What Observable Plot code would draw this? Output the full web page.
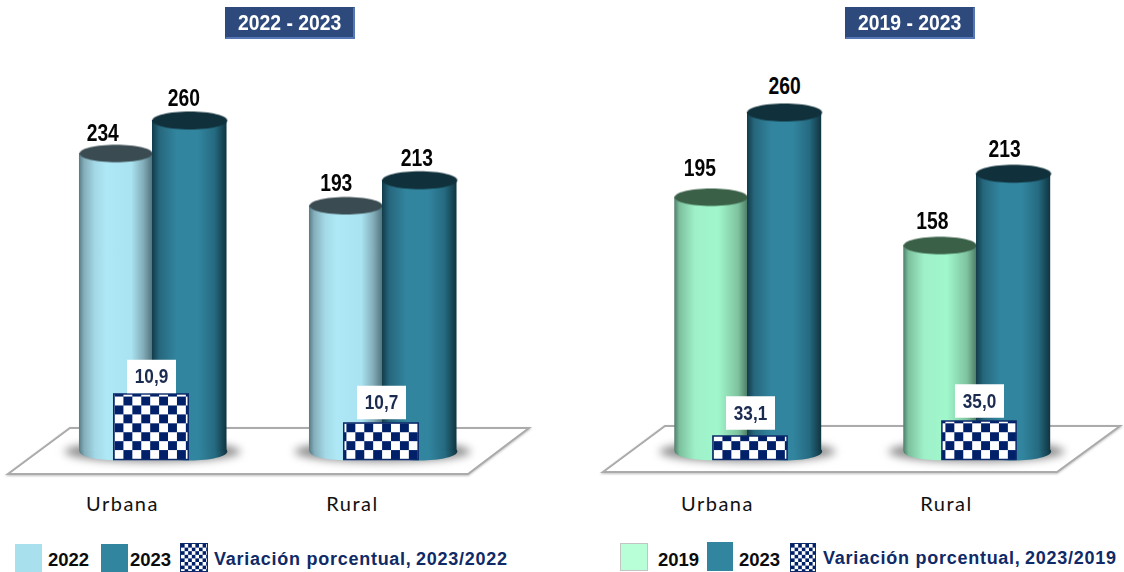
<!DOCTYPE html>
<html lang="es">
<head>
<meta charset="utf-8">
<script src="https://cdn.jsdelivr.net/npm/d3@7"></script>
<script src="https://cdn.jsdelivr.net/npm/@observablehq/plot@0.6"></script>
<style>
html,body{margin:0;padding:0;background:#fff;width:1124px;height:572px;overflow:hidden}
#root{position:relative;width:1124px;height:572px}
#root > svg{position:absolute;top:0;overflow:visible;background:transparent}
.shadow{filter:blur(4px)}
.floor{filter:drop-shadow(0 1px 1px rgba(0,0,0,.25))}
.cyl{filter:blur(.4px)}
.title{position:absolute;top:7px;width:130px;height:32px;box-sizing:border-box;background:#2e4a7d;border:1px solid #2e4a7d;border-right:2px solid #5577b5;border-bottom:2px solid #5577b5;color:#fff;font:bold 22px/30px "Liberation Sans",sans-serif;text-align:center}
.title span{display:inline-block;transform:scaleX(.88);white-space:nowrap}
.sw{position:absolute;box-sizing:border-box}
.lg{position:absolute;top:549px;font:bold 18.5px/22px "Liberation Sans",sans-serif;color:#0c0c0c;white-space:nowrap}
.lv{color:#0f2a66;letter-spacing:.74px;font-size:18px}
</style>
</head>
<body>
<svg width="0" height="0" style="position:absolute">
  <defs id="defs"></defs>
</svg>
<div id="root"></div>
<script>
// ---- data ----
const groups = ["Urbana", "Rural"];
const yearsA = ["2022", "2023"];
const urbanaA = [234, 260];
const ruralA = [193, 213];
const variationA = [10.9, 10.7];
const yearsB = ["2019", "2023"];
const urbanaB = [195, 260];
const ruralB = [158, 213];
const variationB = [33.1, 35.0];
const decimalLabel = d => d.toFixed(1).replace(".", ",");

// ---- paint servers ----
const defs = d3.select("#defs");
function gradient(id, stops) {
  const g = defs.append("linearGradient").attr("id", id).attr("x1", 0).attr("x2", 1).attr("y1", 0).attr("y2", 0);
  stops.forEach(([o, c]) => g.append("stop").attr("offset", o).attr("stop-color", c));
}
gradient("gLight", [[0,"#567a85"],[.07,"#84aeba"],[.22,"#a4d9e7"],[.38,"#aee8f6"],[.72,"#a9e2f0"],[.88,"#83adb9"],[1,"#527680"]]);
gradient("gDark", [[0,"#123c4a"],[.1,"#26677d"],[.33,"#32859f"],[.62,"#32859f"],[.84,"#256a80"],[1,"#0f3440"]]);
gradient("gGreen", [[0,"#4f7d68"],[.07,"#7cc09e"],[.28,"#9ef0c8"],[.6,"#a1f7cc"],[.88,"#7dc29e"],[1,"#4f7f68"]]);
function checker(id, cell, ox, oy) {
  const p = defs.append("pattern").attr("id", id).attr("patternUnits", "userSpaceOnUse")
    .attr("width", cell * 2).attr("height", cell * 2).attr("x", ox).attr("y", oy);
  p.append("rect").attr("width", cell * 2).attr("height", cell * 2).attr("fill", "#fff");
  p.append("rect").attr("width", cell).attr("height", cell).attr("fill", "#00206a");
  p.append("rect").attr("x", cell).attr("y", cell).attr("width", cell).attr("height", cell).attr("fill", "#00206a");
}
checker("chkA", 8.92, 114.5, 459);
checker("chkB", 8.92, 151.5, 459);
checker("chkLg", 3.6, 0, 0);

// ---- custom symbols for Plot.dot ----
const ellipse = ratio => ({draw(c, size) {
  const r = Math.sqrt(size / Math.PI), b = r * ratio, k = 0.5523;
  c.moveTo(r, 0);
  c.bezierCurveTo(r, k * b, k * r, b, 0, b);
  c.bezierCurveTo(-k * r, b, -r, k * b, -r, 0);
  c.bezierCurveTo(-r, -k * b, -k * r, -b, 0, -b);
  c.bezierCurveTo(k * r, -b, r, -k * b, r, 0);
  c.closePath();
}});
const box = ratio => ({draw(c, size) {
  const r = Math.sqrt(size / Math.PI), b = r * ratio;
  c.moveTo(-r, -b); c.lineTo(r, -b); c.lineTo(r, b); c.lineTo(-r, b); c.closePath();
}});

const HALF = 0.162;  // half cylinder width, in group units
const LABEL = "'Liberation Sans',sans-serif";

function panel(o) {
  const rows = [];
  const halfBack = HALF * 0.98;
  const k = (o.yRange[0] - o.yRange[1]) / 260;  // pixels per unit of the shared y scale
  groups.forEach((g, gi) => {
    const vals = gi === 0 ? o.urbana : o.rural;
    vals.forEach((v, si) => rows.push({
      g: gi + 1, si, v,
      c: gi + 1 + (si === 0 ? -halfBack : HALF),
      hw: si === 0 ? halfBack : HALF,
      lx: gi + 1 + (si === 0 ? -HALF : HALF) + o.labelNudge[gi * 2 + si] / o.unit,
      ly: v + (21 + o.labelLift[gi * 2 + si]) / k
    }));
  });
  const back = rows.filter(d => d.si === 0), front = rows.filter(d => d.si === 1);
  const toY = d3.scaleLinear().domain(o.varDomain).range(o.varRange);
  const vars = o.variation.map((v, i) => ({
    x: i + 1 + o.boxNudge / o.unit, v, y: toY(v), ly: toY(v) + o.varLift[i] / k, label: decimalLabel(v)
  }));
  const cylinder = (data, grad, cap, r) => [
    Plot.dot(data, {x: "c", y: 0, r, symbol: ellipse(0.24), fill: grad, className: "cyl"}),
    Plot.rect(data, {x1: d => d.c - d.hw, x2: d => d.c + d.hw, y1: 0, y2: "v", fill: grad, className: "cyl"}),
    Plot.dot(data, {x: "c", y: "v", r, symbol: ellipse(0.24), fill: cap, className: "cyl"})
  ];
  const floor = (index, {x, y}) => {
    const X = x(1), Y = y(0);
    return d3.create("svg:polygon")
      .attr("class", "floor")
      .attr("points", o.floorPts.map(([a, b]) => [X + a, Y + b].join(",")).join(" "))
      .attr("fill", "#fff").attr("stroke", "#ababab").attr("stroke-width", 2)
      .node();
  };
  const svg = Plot.plot({
    width: 562, height: 572, margin: 0,
    x: {domain: [1, 2], range: o.xRange, axis: null},
    y: {domain: [0, 260], range: o.yRange, axis: null},
    marks: [
      floor,
      Plot.dot(groups, {x: (d, i) => i + 1, y: 0, r: 88, symbol: ellipse(0.12), fill: "#8c8c8c", className: "shadow"}),
      ...cylinder(back, o.lightGrad, o.lightCap, 36.5),
      ...cylinder(front, "url(#gDark)", "#10313b", 37.5),
      Plot.rect(vars, {
        x1: d => d.x - HALF, x2: d => d.x + HALF, y1: o.boxBase, y2: "y",
        fill: o.checker, stroke: "#0d2a6b", strokeWidth: 1.5
      }),
      Plot.dot(vars, {x: "x", y: "ly", r: 24.5, symbol: box(0.68), fill: "#fff"}),
      Plot.text(vars, {
        x: "x", y: "ly", text: "label", fill: "#1b2b50", className: "nv",
        fontFamily: LABEL, fontWeight: "bold", fontSize: 21
      }),
      Plot.text(rows, {
        x: "lx", y: "ly", text: d => String(d.v), fill: "#050505", className: "nv2",
        fontFamily: LABEL, fontWeight: "bold", fontSize: 23
      }),
      Plot.text(groups, {
        x: (d, i) => i + 1, text: d => d, frameAnchor: "bottom", dy: -62, dx: -30, className: "cat",
        fill: "#111", fontFamily: "Lato", fontSize: 20
      })
    ]
  });
  svg.style.left = o.left + "px";
  return svg;
}

const root = document.getElementById("root");
root.append(panel({
  left: 0, unit: 230, xRange: [152, 382], yRange: [451, 120],
  urbana: urbanaA, rural: ruralA, variation: variationA,
  varDomain: [10.7, 10.9], varRange: [22, 44.8], boxBase: -6.7, boxNudge: -1,
  labelNudge: [-12.5, -6, -9, -3], labelLift: [-1, 1, 1, 1], varLift: [18, 21],
  lightGrad: "url(#gLight)", lightCap: "#3a4c52", checker: "url(#chkA)",
  floorPts: [[-144, 23], [-82, -23], [377, -23], [316, 23]]
}));
root.append(panel({
  left: 562, unit: 229, xRange: [185, 414], yRange: [451, 112],
  urbana: urbanaB, rural: ruralB, variation: variationB,
  varDomain: [33.1, 35.0], varRange: [11.5, 23], boxBase: -6.5, boxNudge: 3,
  labelNudge: [-10.5, 0, -7, -9], labelLift: [8, 5, 3, 3], varLift: [23.5, 20.5],
  lightGrad: "url(#gGreen)", lightCap: "#3a6048", checker: "url(#chkB)",
  floorPts: [[-144, 21], [-82, -25], [373, -25], [310, 21]]
}));

// condensed look: the narrow Arial cut is not installed, so squeeze the glyphs
function squeeze(sel, f) {
  root.querySelectorAll(sel + " text").forEach(t => {
    t.setAttribute("textLength", (t.getComputedTextLength() * f).toFixed(1));
    t.setAttribute("lengthAdjust", "spacingAndGlyphs");
  });
}
squeeze(".nv", 0.82);
squeeze(".nv2", 0.84);
root.querySelectorAll(".cat text").forEach(t => { t.style.letterSpacing = "1.5px"; });

// ---- titles and legends ----
function addEl(cls, css, text, html) {
  const e = document.createElement("div");
  e.className = cls;
  Object.assign(e.style, css);
  if (text) e.textContent = text;
  if (html) e.innerHTML = html;
  root.append(e);
  return e;
}
addEl("title", {left: "225px"}, null, `<span>${yearsA[0]} - ${yearsA[1]}</span>`);
addEl("title", {left: "845px"}, null, `<span>${yearsB[0]} - ${yearsB[1]}</span>`);
const chk = '<svg width="100%" height="100%" style="display:block"><rect width="100%" height="100%" fill="url(#chkLg)"/></svg>';
addEl("sw", {left: "15px", top: "544px", width: "27px", height: "28px", background: "#a8e0ee"});
addEl("lg", {left: "48px"}, yearsA[0]);
addEl("sw", {left: "101px", top: "544px", width: "27px", height: "28px", background: "#32859f"});
addEl("lg", {left: "130px"}, yearsA[1]);
addEl("sw", {left: "180px", top: "543px", width: "28px", height: "29px", border: "1px solid #0d2a6b"}, null, chk);
addEl("lg lv", {left: "214px", top: "548px"}, `Variación porcentual,${"\u2009"}${yearsA[1]}/${yearsA[0]}`);
addEl("sw", {left: "620px", top: "543px", width: "28px", height: "28px", background: "#b8ffd8", border: "1.5px solid #c4c4c4"});
addEl("lg", {left: "658px"}, yearsB[0]);
addEl("sw", {left: "707px", top: "542px", width: "26px", height: "29px", background: "#32859f"});
addEl("lg", {left: "739px"}, yearsB[1]);
addEl("sw", {left: "790px", top: "543px", width: "26px", height: "29px", border: "1px solid #0d2a6b"}, null, chk);
addEl("lg lv", {left: "823px", top: "547px"}, `Variación porcentual,${"\u2009"}${yearsB[1]}/${yearsB[0]}`);
</script>
</body>
</html>
